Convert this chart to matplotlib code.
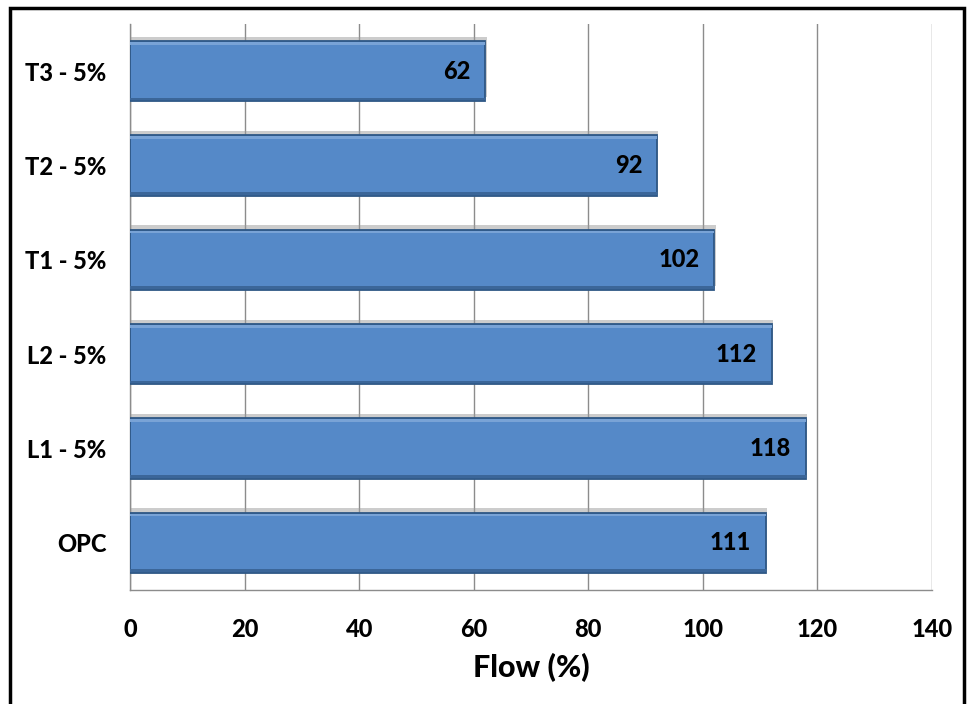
import matplotlib
matplotlib.use("Agg")
import matplotlib.pyplot as plt
import matplotlib.patheffects as pe
from matplotlib.patches import Rectangle
import numpy as np

categories = ["OPC", "L1 - 5%", "L2 - 5%", "T1 - 5%", "T2 - 5%", "T3 - 5%"]
flow = [111, 118, 112, 102, 92, 62]
xticks = [0, 20, 40, 60, 80, 100, 120, 140]

plt.rcParams["font.family"] = ["Lato", "DejaVu Sans"]
plt.rcParams["font.weight"] = "black"

fig = plt.figure(figsize=(9.72, 7.04), dpi=100)
ax = fig.add_axes([130 / 972, 114 / 704, 802 / 972, 566 / 704])

y = np.arange(len(categories))
bars = ax.barh(y, flow, height=0.64, color="#5589C8", edgecolor="#2E5785",
               linewidth=1.3, zorder=3)
for b in bars:
    b.set_path_effects([pe.SimplePatchShadow(offset=(1, 3), shadow_rgbFace="#9A9A9A", alpha=0.5),
                        pe.Normal()])
# thin bevel strips on top and bottom of each bar
ax.barh(y + 0.295, flow, height=0.025, color="#79A3D6", linewidth=0, zorder=4)
ax.barh(y - 0.295, flow, height=0.025, color="#3B6699", linewidth=0, zorder=4)

for yi, v in zip(y, flow):
    ax.text(v - 2.6, yi, str(v), ha="right", va="center", fontsize=17,
            fontweight="black", color="black", zorder=5)

ax.set_xlim(0, 140)
ax.set_ylim(-0.5, len(categories) - 0.5)
ax.set_xticks(xticks)
ax.set_yticks(y)
ax.set_yticklabels(categories)
ax.tick_params(axis="both", length=0, labelsize=17)
ax.tick_params(axis="y", pad=17)
ax.tick_params(axis="x", pad=20)
ax.xaxis.grid(True, color="#8C8C8C", linewidth=1, zorder=0)
ax.set_axisbelow(True)
for s in ["top", "right"]:
    ax.spines[s].set_visible(False)
for s in ["left", "bottom"]:
    ax.spines[s].set_color("#8C8C8C")
    ax.spines[s].set_linewidth(1)
ax.set_xlabel("Flow (%)", fontsize=22, fontweight="black", labelpad=9)

# outer frame
fig.patches.append(Rectangle((10 / 972, -0.05), 954 / 972, 1.05 - 8 / 704,
                             transform=fig.transFigure, fill=False,
                             edgecolor="black", linewidth=2.5))

fig.savefig("out.png", dpi=100)
